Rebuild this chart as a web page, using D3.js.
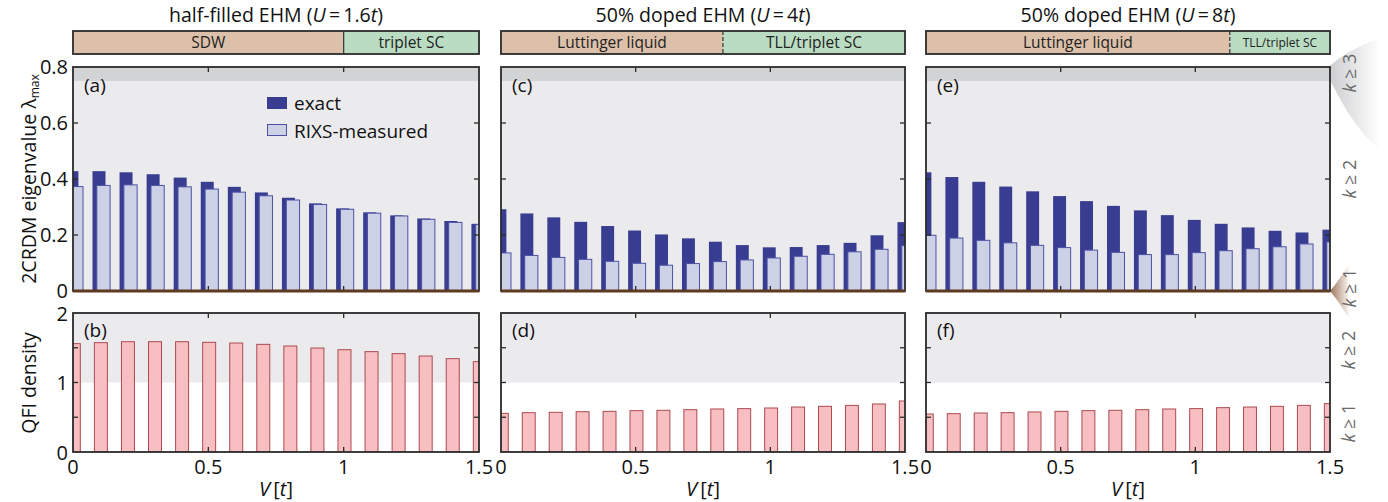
<!DOCTYPE html>
<html><head><meta charset="utf-8">
<script src="https://cdn.jsdelivr.net/npm/d3@7"></script>
<style>
body{margin:0;background:#fff;}
svg{display:block;font-family:"Open Sans",sans-serif;}
</style></head>
<body><svg id="c" width="1388" height="502"></svg>
<script>
// ---------- data ----------
const V = [0,0.1,0.2,0.3,0.4,0.5,0.6,0.7,0.8,0.9,1.0,1.1,1.2,1.3,1.4,1.5];
const exactA = [0.428,0.428,0.424,0.417,0.405,0.390,0.372,0.352,0.333,0.313,0.295,0.281,0.270,0.259,0.250,0.240];
const rixsA  = [0.373,0.377,0.379,0.377,0.372,0.364,0.353,0.340,0.325,0.309,0.292,0.278,0.268,0.256,0.245,0.237];
const exactC = [0.292,0.277,0.263,0.247,0.232,0.216,0.202,0.188,0.176,0.164,0.156,0.157,0.164,0.172,0.199,0.246];
const rixsC  = [0.136,0.127,0.120,0.113,0.106,0.099,0.092,0.098,0.105,0.111,0.118,0.124,0.131,0.140,0.149,0.162];
const exactE = [0.424,0.407,0.390,0.373,0.356,0.339,0.321,0.304,0.288,0.271,0.254,0.240,0.227,0.215,0.209,0.219];
const rixsE  = [0.199,0.189,0.181,0.172,0.163,0.155,0.146,0.138,0.130,0.130,0.137,0.144,0.151,0.158,0.168,0.175];
const qfiB = [1.559,1.573,1.587,1.587,1.587,1.578,1.568,1.549,1.525,1.496,1.472,1.444,1.415,1.381,1.343,1.300];
const qfiD = [0.556,0.566,0.571,0.580,0.585,0.595,0.600,0.609,0.619,0.624,0.633,0.647,0.657,0.671,0.691,0.734];
const qfiF = [0.547,0.552,0.561,0.566,0.576,0.585,0.595,0.600,0.609,0.619,0.624,0.638,0.647,0.657,0.671,0.696];
const xTicks = [0,0.5,1,1.5];
const xTickLabels = ["0","0.5","1","1.5"];
const yTicksTop = [0,0.2,0.4,0.6,0.8];
const yTickLabelsTop = ["0","0.2","0.4","0.6","0.8"];
const yTicksBottom = [0,1,2];
const yTickLabelsBottom = ["0","1","2"];
const phaseNames = [["SDW","triplet SC"],["Luttinger liquid","TLL/triplet SC"],["Luttinger liquid","TLL/triplet SC"]];
const phaseBoundary = [1.0,0.824,1.128];
const titleU = ["1.6","4","8"];
const titlePrefix = ["half-filled EHM","50% doped EHM","50% doped EHM"];
const panelLettersTop = ["(a)","(c)","(e)"];
const panelLettersBottom = ["(b)","(d)","(f)"];
const legendLabels = ["exact","RIXS-measured"];
const kThresholdTop = [0.75];   // k>=3 band start
const kThresholdBottom = [1];   // k>=2 band start

// ---------- layout ----------
const svg = d3.select("#c");
const panelsX = [[73,479],[501,905],[926,1330]];
const topY = [67,291], botY = [313,452], phaseY = [31,54];
const C = {dark:"#383d91", light:"#cdd1e5", lightStroke:"#4b51a6", pink:"#f7bfc2", pinkStroke:"#ad4a50",
  bg1:"#ebebee", bg2:"#d2d3d5", frame:"#2b2b2b", zero:"#5e3a20", tan:"#dcc0aa", green:"#badcc2"};

const defs = svg.append("defs");
function grad(id,color,op){
  const g = defs.append("linearGradient").attr("id",id).attr("x1","0").attr("x2","1").attr("y1","0").attr("y2","0");
  g.append("stop").attr("offset","0").attr("stop-color",color).attr("stop-opacity",op);
  g.append("stop").attr("offset","1").attr("stop-color",color).attr("stop-opacity",0);
}
grad("gGrey","#bcbdc0",0.75); grad("gBrown","#8a5a38",0.85);

const topData = [[exactA,rixsA],[exactC,rixsC],[exactE,rixsE]];
const botData = [qfiB,qfiD,qfiF];

// right-side wedges (drawn first, behind)
const rx0 = 1330;
svg.append("path").attr("d",`M${rx0},66 C${rx0+10},56 ${rx0+30},45 ${rx0+50},38 L${rx0+50},150 C${rx0+25},130 ${rx0+8},95 ${rx0},80 Z`).attr("fill","url(#gGrey)");
svg.append("path").attr("d",`M${rx0},291 C${rx0+6},284 ${rx0+12},275 ${rx0+20},264 L${rx0+20},320 C${rx0+12},307 ${rx0+6},298 ${rx0},291 Z`).attr("fill","url(#gBrown)");

panelsX.forEach((px,i)=>{
  const x = d3.scaleLinear().domain([0,1.5]).range(px);
  const yT = d3.scaleLinear().domain([0,0.8]).range([topY[1],topY[0]]);
  const yB = d3.scaleLinear().domain([0,2]).range([botY[1],botY[0]]);
  const cx = (px[0]+px[1])/2;

  // title
  const t = svg.append("text").attr("x",cx).attr("y",22).attr("text-anchor","middle").attr("font-size",19.5).attr("fill","#111");
  t.append("tspan").text(titlePrefix[i]+" (");
  t.append("tspan").attr("font-style","italic").text("U");
  t.append("tspan").text("\u2009=\u2009"+titleU[i]);
  t.append("tspan").attr("font-style","italic").text("t");
  t.append("tspan").text(")");

  // phase bar
  const xb = phaseBoundary[i];
  svg.append("rect").attr("x",x(0)).attr("y",phaseY[0]).attr("width",x(xb)-x(0)).attr("height",phaseY[1]-phaseY[0]).attr("fill",C.tan);
  svg.append("rect").attr("x",x(xb)).attr("y",phaseY[0]).attr("width",x(1.5)-x(xb)).attr("height",phaseY[1]-phaseY[0]).attr("fill",C.green);
  svg.append("line").attr("x1",x(xb)).attr("x2",x(xb)).attr("y1",phaseY[0]).attr("y2",phaseY[1])
    .attr("stroke","#333").attr("stroke-width",1.2).attr("stroke-dasharray",i===0?null:"4,2");
  svg.append("rect").attr("x",x(0)).attr("y",phaseY[0]).attr("width",x(1.5)-x(0)).attr("height",phaseY[1]-phaseY[0])
    .attr("fill","none").attr("stroke",C.frame).attr("stroke-width",1.8);
  const fs1 = 15.5, fs2 = i===2 ? 12 : 15.5;
  svg.append("text").attr("x",(x(0)+x(xb))/2).attr("y",48).attr("text-anchor","middle").attr("font-size",fs1).attr("fill","#222").text(phaseNames[i][0]);
  svg.append("text").attr("x",(x(xb)+x(1.5))/2).attr("y",i===2?47:48).attr("text-anchor","middle").attr("font-size",fs2).attr("fill","#222").text(phaseNames[i][1]);

  // ---- top panel ----
  const clipT = "clipT"+i;
  defs.append("clipPath").attr("id",clipT).append("rect").attr("x",px[0]).attr("y",topY[0]).attr("width",px[1]-px[0]).attr("height",topY[1]-topY[0]);
  const gT = svg.append("g").attr("clip-path",`url(#${clipT})`);
  gT.append("rect").attr("x",px[0]).attr("y",yT(kThresholdTop[0])).attr("width",px[1]-px[0]).attr("height",yT(0)-yT(kThresholdTop[0])).attr("fill",C.bg1);
  gT.append("rect").attr("x",px[0]).attr("y",yT(0.8)).attr("width",px[1]-px[0]).attr("height",yT(kThresholdTop[0])-yT(0.8)).attr("fill",C.bg2);
  const [ex,rx] = topData[i];
  gT.selectAll(".ex").data(V).enter().append("rect")
    .attr("x",v=>x(v-0.028)).attr("width",v=>x(v+0.02)-x(v-0.028))
    .attr("y",(v,j)=>yT(ex[j])).attr("height",(v,j)=>yT(0)-yT(ex[j])).attr("fill",C.dark);
  gT.selectAll(".rx").data(V).enter().append("rect")
    .attr("x",v=>x(v-0.012)).attr("width",v=>x(v+0.037)-x(v-0.012))
    .attr("y",(v,j)=>yT(rx[j])).attr("height",(v,j)=>yT(0)-yT(rx[j])).attr("fill",C.light)
    .attr("stroke",C.lightStroke).attr("stroke-width",1);

  // ---- bottom panel ----
  const clipB = "clipB"+i;
  defs.append("clipPath").attr("id",clipB).append("rect").attr("x",px[0]).attr("y",botY[0]).attr("width",px[1]-px[0]).attr("height",botY[1]-botY[0]);
  const gB = svg.append("g").attr("clip-path",`url(#${clipB})`);
  gB.append("rect").attr("x",px[0]).attr("y",yB(2)).attr("width",px[1]-px[0]).attr("height",yB(kThresholdBottom[0])-yB(2)).attr("fill",C.bg1);
  const q = botData[i];
  gB.selectAll(".q").data(V).enter().append("rect")
    .attr("x",v=>x(v-0.021)).attr("width",v=>x(v+0.027)-x(v-0.021))
    .attr("y",(v,j)=>yB(q[j])).attr("height",(v,j)=>yB(0)-yB(q[j])).attr("fill",C.pink)
    .attr("stroke",C.pinkStroke).attr("stroke-width",1);

  // frames & ticks
  function frame(y, y0, y1, yt){
    const g = svg.append("g").attr("stroke",C.frame).attr("stroke-width",1.3);
    [0.5,1].forEach(v=>{
      g.append("line").attr("x1",x(v)).attr("x2",x(v)).attr("y1",y0).attr("y2",y0+5);
      g.append("line").attr("x1",x(v)).attr("x2",x(v)).attr("y1",y1).attr("y2",y1-5);
    });
    yt.forEach(v=>{
      g.append("line").attr("x1",px[0]).attr("x2",px[0]+5).attr("y1",y(v)).attr("y2",y(v));
      g.append("line").attr("x1",px[1]).attr("x2",px[1]-5).attr("y1",y(v)).attr("y2",y(v));
    });
    svg.append("rect").attr("x",px[0]).attr("y",y0).attr("width",px[1]-px[0]).attr("height",y1-y0)
      .attr("fill","none").attr("stroke",C.frame).attr("stroke-width",1.8);
  }
  frame(yT, topY[0], topY[1], [0.2,0.4,0.6]);
  frame(yB, botY[0], botY[1], [0.5,1,1.5]);
  svg.append("line").attr("x1",px[0]).attr("x2",px[1]).attr("y1",yT(0)).attr("y2",yT(0)).attr("stroke",C.zero).attr("stroke-width",3);

  // panel letters
  svg.append("text").attr("x",px[0]+11).attr("y",92).attr("font-size",19).attr("fill","#111").text(panelLettersTop[i]);
  svg.append("text").attr("x",px[0]+11).attr("y",337).attr("font-size",19).attr("fill","#111").text(panelLettersBottom[i]);

  // x tick labels
  xTicks.forEach((v,k)=>{
    svg.append("text").attr("x",x(v)).attr("y",474).attr("text-anchor","middle").attr("font-size",20).attr("fill","#111").text(xTickLabels[k]);
  });
  const xl = svg.append("text").attr("x",cx).attr("y",496).attr("text-anchor","middle").attr("font-size",20).attr("fill","#111");
  xl.append("tspan").attr("font-style","italic").text("V");
  xl.append("tspan").text("\u2009[");
  xl.append("tspan").attr("font-style","italic").text("t");
  xl.append("tspan").text("]");

  if(i===0){
    yTicksTop.forEach((v,k)=>{
      svg.append("text").attr("x",px[0]-5).attr("y",yT(v)+6.5).attr("text-anchor","end").attr("font-size",20).attr("fill","#111").text(yTickLabelsTop[k]);
    });
    yTicksBottom.forEach((v,k)=>{
      svg.append("text").attr("x",px[0]-5).attr("y",yB(v)+7.5).attr("text-anchor","end").attr("font-size",20).attr("fill","#111").text(yTickLabelsBottom[k]);
    });
    // legend
    svg.append("rect").attr("x",267).attr("y",97).attr("width",20).attr("height",12).attr("fill",C.dark);
    svg.append("rect").attr("x",267.5).attr("y",124.5).attr("width",19).attr("height",11).attr("fill",C.light).attr("stroke",C.lightStroke).attr("stroke-width",1);
    svg.append("text").attr("x",294).attr("y",110).attr("font-size",19).attr("fill","#111").text(legendLabels[0]);
    svg.append("text").attr("x",294).attr("y",138).attr("font-size",19).attr("fill","#111").text(legendLabels[1]);
  }
});

// y-axis labels
const yl1 = svg.append("text").attr("transform","translate(36,179) rotate(-90)").attr("text-anchor","middle").attr("font-size",19.5).attr("fill","#111");
yl1.append("tspan").text("2CRDM eigenvalue \u03bb");
yl1.append("tspan").attr("font-size",12).attr("dy",3).text("max");
svg.append("text").attr("transform","translate(36,383) rotate(-90)").attr("text-anchor","middle").attr("font-size",19.5).attr("fill","#111").text("QFI density");

// k labels
function kLabel(xp, yp, n){
  const t = svg.append("text").attr("transform",`translate(${xp},${yp}) rotate(-90)`).attr("text-anchor","middle").attr("font-size",18).attr("fill","#6a6a6a");
  t.append("tspan").attr("font-style","italic").text("k");
  t.append("tspan").text(" \u2265 "+n);
}
kLabel(1356,73,3); kLabel(1356,179,2); kLabel(1356,288,1);
kLabel(1355,350,2); kLabel(1355,423,1);
</script></body></html>
